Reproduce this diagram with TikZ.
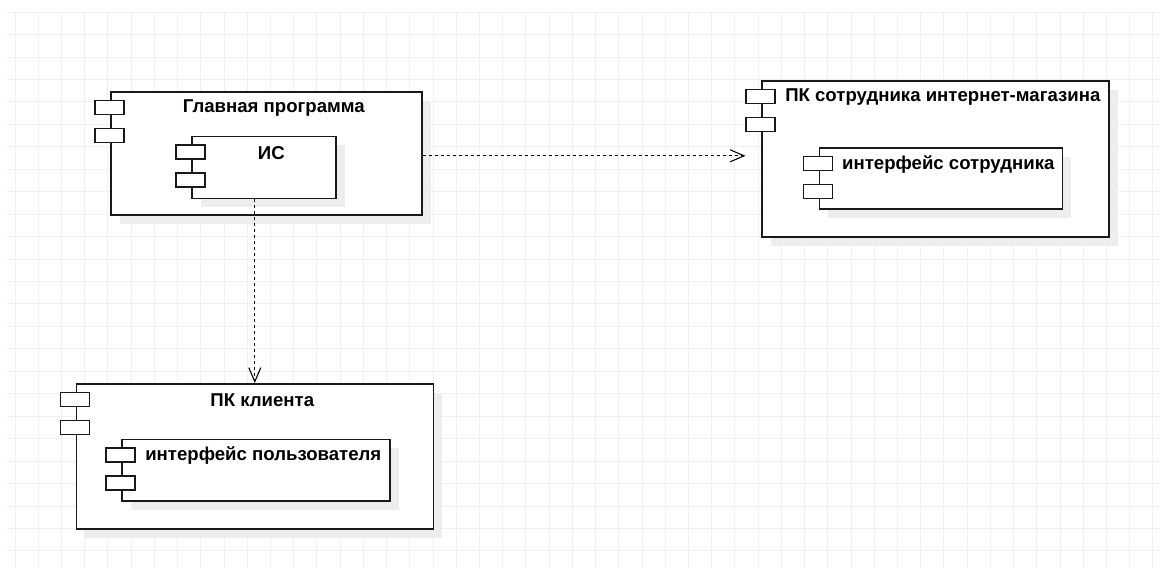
\documentclass[tikz,border=0pt]{standalone}
\usepackage{fontspec}
\setmainfont{Liberation Sans}
\usetikzlibrary{arrows.meta,shadows}

\begin{document}
\begin{tikzpicture}[x=1pt,y=-1pt,
		gridline/.style={draw=black!6,line width=0.8pt},
		component/.style={draw=black!90,line width=1.6pt,fill=white,anchor=north west,inner sep=0pt,
			drop shadow={shadow xshift=9pt,shadow yshift=-9pt,fill=black!7,opacity=1}},
		iconbox/.style={draw=black!90,line width=1.5pt,fill=white},
		title/.style={anchor=center,inner sep=0pt,font=\fontsize{18.6}{22}\selectfont\bfseries},
		dep/.style={line width=1.1pt,dash pattern=on 3pt off 3pt,-{Straight Barb[length=14pt,width=12pt]}}]
		\useasboundingbox (0,0) rectangle (1160,568);
		% background grid
		\foreach \i in {0,...,49}
		\draw[gridline] ({15+23.22*\i},12) -- ({15+23.22*\i},568);
		\foreach \j in {0,...,24}
		\draw[gridline] (7,{12+22.45*\j}) -- (1160,{12+22.45*\j});
		
		% components
		\node[component,minimum width=311pt,minimum height=123pt] (main) at (110,91) {};
		\node[component,minimum width=144pt,minimum height=62pt] (is) at (191,135.5) {};
		\node[component,minimum width=347pt,minimum height=156pt] (staff) at (761,80) {};
		\node[component,minimum width=243pt,minimum height=61pt] (staffui) at (818.5,147) {};
		\node[component,minimum width=357pt,minimum height=145pt] (client) at (75.5,383) {};
		\node[component,minimum width=268pt,minimum height=61.5pt] (clientui) at (121,438.5) {};
		
		% component icons
		\foreach \c in {main,is,staff,staffui,client,clientui} {
			\draw[iconbox] ([xshift=-15pt,yshift=-9.5pt]\c.north west) rectangle ++(29,14);
			\draw[iconbox] ([xshift=-15pt,yshift=-37.7pt]\c.north west) rectangle ++(29,14);
		}
		
		% titles
		\node[title] (mainT) at ([xshift=7.5pt,yshift=-17.5pt]main.north) {Главная программа};
		\node[title] (isT) at ([xshift=7.5pt,yshift=-17.5pt]is.north) {ИС};
		\node[title] (staffT) at ([xshift=7.5pt,yshift=-17.5pt]staff.north) {ПК сотрудника интернет-магазина};
		\node[title] (staffuiT) at ([xshift=7.5pt,yshift=-17.5pt]staffui.north) {интерфейс сотрудника};
		\node[title] (clientT) at ([xshift=7.5pt,yshift=-17.5pt]client.north) {ПК клиента};
		\node[title] (clientuiT) at ([xshift=7.5pt,yshift=-17.5pt]clientui.north) {интерфейс пользователя};
		
		% dependencies
		\coordinate (depR) at ([yshift=-2.5pt]main.east);
		\draw[dep,shorten >=15.5pt] (depR) -- (depR -| staff.west);
		\draw[dep] (is.south -| client.north) -- (client.north);
	\end{tikzpicture}
\end{document}
